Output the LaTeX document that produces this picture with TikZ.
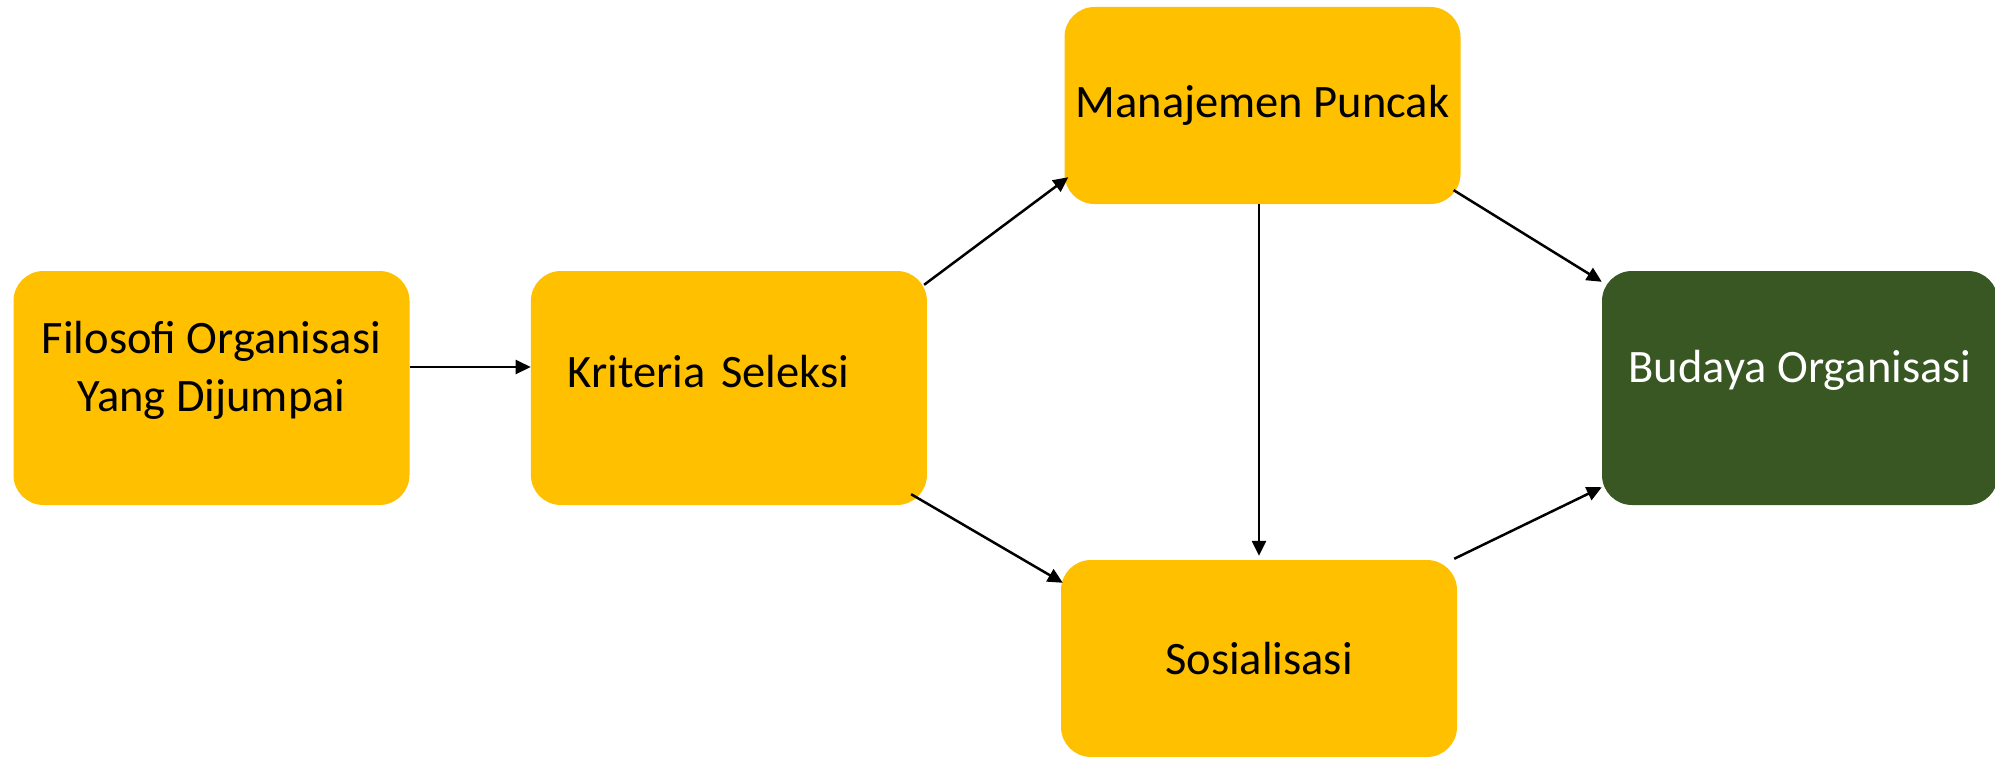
\documentclass[tikz,border=0pt]{standalone}
\usepackage{fontspec}
\setmainfont{Carlito}
\usepackage{xcolor}
\usetikzlibrary{arrows.meta, positioning}

\definecolor{stagegold}{HTML}{FFC000}
\definecolor{resultgreen}{HTML}{385723}

\tikzset{
    stage/.style={fill=stagegold, rounded corners=30pt, minimum width=396pt,
        minimum height=197pt, inner sep=0pt, align=center,
        font=\fontsize{46.5}{58}\selectfont},
    tall/.style={minimum height=234pt},
    result/.style={stage, tall, fill=resultgreen, text=white},
    flow/.style={-{Triangle[length=15pt, width=14pt]}, line width=2.5pt}
}

\begin{document}
\begin{tikzpicture}[x=1pt, y=-1pt]
        \useasboundingbox (0,0) rectangle (1995,757);

        % Add the stages
        \node[stage, tall, text depth=44pt] (filo) at (211.5,388) {Filosofi Organisasi\\Yang Dijumpai};
        \node[stage, tall, text depth=34pt, right=121pt of filo, text width=322pt, inner xsep=37pt, align=left]
                                          (krit) {Kriteria Seleksi};
        \node[stage]                      (mana) at (1262.5,105.5) {Manajemen Puncak};
        \node[stage]                      (sosi) at (1259,658.5) {Sosialisasi};
        \node[result, text depth=44pt]    (buda) at (1800,388) {Budaya Organisasi};

        % Connect the stages with arrows
        \draw[flow] ([yshift=21pt]filo.east) -- ([yshift=21pt]krit.west);
        \draw[flow] ([xshift=-3pt, yshift=-14pt]krit.north east) -- ([xshift=4pt, yshift=27pt]mana.south west);
        \draw[flow] ([xshift=-16pt, yshift=11pt]krit.south east) -- ([xshift=2pt, yshift=-23pt]sosi.north west);
        \draw[flow] (mana.south -| sosi.north) -- ([yshift=4pt]sosi.north);
        \draw[flow] ([xshift=-7pt, yshift=14pt]mana.south east) -- ([yshift=-11pt]buda.north west);
        \draw[flow] ([xshift=-3pt, yshift=1pt]sosi.north east) -- ([yshift=18pt]buda.south west);
    \end{tikzpicture}
\end{document}
